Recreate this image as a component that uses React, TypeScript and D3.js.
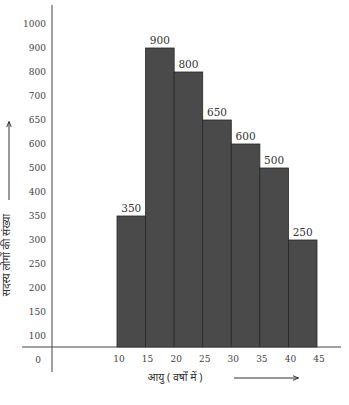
import React from "react";
import * as d3 from "d3";

const yTickLabels = ["0", "100", "150", "200", "250", "300", "350", "400", "500", "600", "650", "700", "800", "900", "1000"];
const classStarts = [10, 15, 20, 25, 30, 35, 40];
const xTicks = [10, 15, 20, 25, 30, 35, 40, 45];
// level on the (non-uniform) y axis the bar reaches, as drawn
const barLevels = ["350", "900", "800", "650", "600", "500", "300"];
// value printed above each bar
const barLabels = ["350", "900", "800", "650", "600", "500", "250"];

const W = 349;
const H = 405;

export default function App() {
  const x = d3.scaleLinear().domain([10, 45]).range([117, 317]);
  const y = d3.scalePoint<string>().domain(yTickLabels).range([360, 24]);
  const baseY = 347;
  const axisX = 52;
  const font = "'DejaVu Serif', 'Liberation Serif', serif";
  const hindi = "'Noto Sans', 'Noto Serif Devanagari', sans-serif";

  return (
    <svg width={W} height={H} style={{ position: "absolute", left: 0, top: 0, background: "#fff" }}>
      <defs>
        <marker id="ah" viewBox="0 0 10 10" refX="9" refY="5" markerWidth="6" markerHeight="6" orient="auto">
          <path d="M0,1 L10,5 L0,9" fill="none" stroke="#222" strokeWidth="1.5" />
        </marker>
      </defs>
      {classStarts.map((s, i) => (
        <rect
          key={s}
          x={x(s)}
          y={y(barLevels[i])!}
          width={x(s + 5) - x(s)}
          height={baseY - y(barLevels[i])!}
          fill="#4a4a4a"
          stroke="#262626"
          strokeWidth={0.8}
        />
      ))}
      {classStarts.map((s, i) => (
        <text
          key={"l" + s}
          x={x(s + 2.5)}
          y={y(barLevels[i])! - 4}
          textAnchor="middle"
          fontFamily={font}
          fontSize={10.5}
          fill="#333"
        >
          {barLabels[i]}
        </text>
      ))}
      <line x1={axisX} y1={5} x2={axisX} y2={372} stroke="#444" strokeWidth={1} />
      <line x1={22} y1={baseY} x2={341} y2={baseY} stroke="#444" strokeWidth={1} />
      {yTickLabels.map((t) => (
        <text
          key={t}
          x={t === "0" ? 41 : 46}
          y={y(t)!}
          dy="0.35em"
          textAnchor="end"
          fontFamily={font}
          fontSize={9}
          fill="#444"
        >
          {t}
        </text>
      ))}
      {xTicks.map((t) => (
        <text
          key={t}
          x={x(t) + 2}
          y={359}
          dy="0.35em"
          textAnchor="middle"
          fontFamily={font}
          fontSize={9}
          fill="#444"
        >
          {t}
        </text>
      ))}
      <text x={175} y={381} textAnchor="middle" fontFamily={hindi} fontSize={10.5} fill="#333">
        आयु ( वर्षों में )
      </text>
      <line x1={234} y1={378} x2={298} y2={378} stroke="#333" strokeWidth={1} markerEnd="url(#ah)" />
      <text
        transform="translate(10,255) rotate(-90)"
        textAnchor="middle"
        fontFamily={hindi}
        fontSize={10.5}
        fill="#333"
      >
        सदस्य लोगों की संख्या
      </text>
      <line x1={9} y1={200} x2={9} y2={122} stroke="#333" strokeWidth={1} markerEnd="url(#ah)" />
    </svg>
  );
}
